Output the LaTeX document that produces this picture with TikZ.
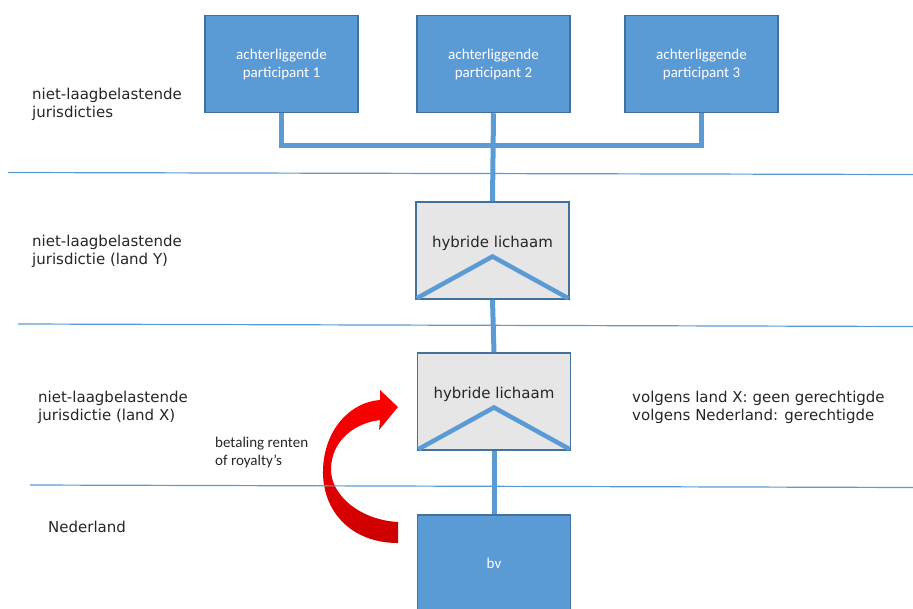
\documentclass[tikz,border=0pt]{standalone}
\usepackage{fontspec}
\setmainfont{DejaVu Sans}
\newfontfamily\calibri{Carlito}
\definecolor{boxblue}{RGB}{91,155,213}
\definecolor{boxedge}{RGB}{65,113,156}
\definecolor{hybgrey}{RGB}{231,230,230}
\definecolor{txtgrey}{RGB}{38,38,38}
\definecolor{arrowdark}{RGB}{204,0,0}
\begin{document}
\begin{tikzpicture}[x=1pt,y=-1pt,
    partbox/.style={draw=boxedge, fill=boxblue, line width=1.5pt, minimum width=153pt, minimum height=97pt, inner sep=0pt, align=center, text=white, font=\calibri\fontsize{15}{18}\selectfont},
    hybbox/.style={draw=boxedge, fill=hybgrey, line width=1.5pt, minimum width=153pt, minimum height=97pt, inner sep=0pt},
    link/.style={draw=boxblue, line width=5pt},
    divider/.style={draw=boxblue, line width=1.2pt},
    zone/.style={anchor=west, align=left, inner sep=0pt, text=txtgrey, font=\fontsize{15}{18}\selectfont}]
    \useasboundingbox (0,0) rectangle (913,608);

    % payment arrow
    \shade[top color=red, bottom color=arrowdark]
        (398,522) -- (398,543)
        .. controls (350,543) and (322,510) .. (323,470)
        .. controls (324,430) and (350,402) .. (380,400)
        -- (380,390) -- (398,407) -- (379,430) -- (380,420)
        .. controls (355,423) and (332,440) .. (331,468)
        .. controls (330,495) and (360,520) .. (398,522) -- cycle;

    % jurisdiction borders
    \draw[divider] (8,172.5) -- (913,174.5);
    \draw[divider] (18,324) -- (913,326.5);
    \draw[divider] (30,485) -- (913,487.5);

    % entities
    \foreach \x/\n in {281.5/1, 493.5/2, 701.5/3} {
            \node[partbox] (p\n) at (\x,64) {achterliggende\\participant \n};
        }
    \node[hybbox] (hy1) at (492.5,250.5) {};
    \node[hybbox] (hy2) at (494,401.5) {};
    \node[partbox] (bv) at (494,563.5) {bv};

    % links
    \draw[link] (p1.south) -- ++(0,32) -| (p3.south);
    \draw[link] (p2.south) -- (hy1.north);
    \draw[link] (hy1.south) -- (hy2.north);
    \draw[link] (hy2.south) -- (bv.north);

    % hybrid bodies
    \foreach \h in {hy1, hy2} {
            \draw[link, line width=4.5pt] ([shift={(1.5pt,1.5pt)}]\h.south west) -- ([yshift=-6pt]\h.center) -- ([shift={(-1.5pt,1.5pt)}]\h.south east);
            \node[text=txtgrey, font=\fontsize{15}{18}\selectfont] (\h txt) at ([yshift=7pt]\h.center) {hybride lichaam};
        }

    % labels
    \node[zone] (z1) at (32,104.5) {niet-laagbelastende\\jurisdicties};
    \node[zone] (z2) at (32,251.5) {niet-laagbelastende\\jurisdictie (land Y)};
    \node[zone] (z3) at (38,407) {niet-laagbelastende\\jurisdictie (land X)};
    \node[zone] (z4) at (48,527) {Nederland};
    \node[zone] (view) at (632,407.5) {volgens land X: geen gerechtigde\\volgens Nederland: gerechtigde};
    \node[zone, font=\calibri\fontsize{15}{18}\selectfont] (pay) at (215,452) {betaling renten\\of royalty’s};
\end{tikzpicture}
\end{document}
